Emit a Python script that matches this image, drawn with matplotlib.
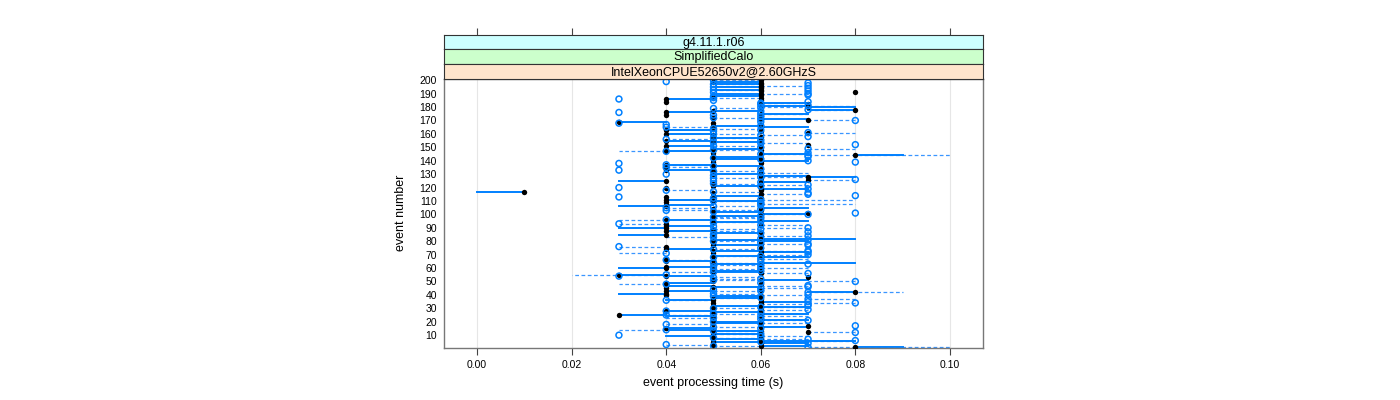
import matplotlib
matplotlib.use("Agg")
import matplotlib.pyplot as plt
import numpy as np

plt.rcParams['font.family'] = ['Liberation Sans', 'DejaVu Sans']

# event numbers
events = list(range(1, 201))

# times in milliseconds, per event 1..200
# black filled points (run A)
run_a_ms = [
    80, 60, 50, 60, 50, 60, 50, 60, 50, 60,
    50, 70, 60, 50, 40, 60, 70, 50, 60, 50,
    60, 50, 60, 50, 30, 60, 50, 40, 60, 50,
    60, 50, 60, 50, 60, 50, 60, 50, 60, 40,
    40, 80, 40, 60, 40, 50, 40, 60, 40, 50,
    60, 50, 70, 40, 30, 60, 50, 60, 50, 40,
    40, 60, 50, 60, 40, 50, 40, 60, 50, 60,
    50, 60, 50, 40, 60, 40, 50, 60, 50, 60,
    50, 60, 50, 60, 40, 50, 60, 40, 50, 40,
    40, 60, 40, 50, 60, 40, 50, 60, 50, 60,
    70, 50, 60, 50, 60, 40, 40, 60, 40, 50,
    40, 60, 40, 50, 60, 50, 10, 60, 60, 40,
    50, 60, 50, 60, 40, 70, 60, 70, 60, 50,
    60, 50, 40, 60, 40, 50, 40, 60, 50, 60,
    50, 60, 50, 80, 60, 50, 40, 60, 50, 60,
    40, 70, 60, 50, 40, 60, 50, 60, 50, 40,
    70, 60, 40, 50, 60, 50, 60, 50, 30, 70,
    60, 50, 60, 40, 60, 40, 50, 80, 60, 70,
    60, 70, 60, 40, 60, 40, 60, 50, 60, 60,
    80, 60, 60, 60, 60, 60, 60, 60, 50, 60,
]
# end of the solid segment for run A
run_a_end_ms = [
    90, 70, 50, 70, 60, 80, 60, 60, 40, 60,
    60, 70, 50, 40, 50, 70, 70, 50, 50, 60,
    70, 50, 60, 40, 40, 70, 60, 50, 60, 50,
    70, 60, 60, 50, 70, 40, 60, 60, 50, 40,
    30, 70, 50, 60, 40, 60, 50, 60, 50, 50,
    70, 50, 70, 50, 40, 60, 60, 50, 50, 30,
    50, 60, 60, 80, 50, 50, 40, 70, 60, 60,
    50, 70, 60, 50, 60, 40, 60, 60, 50, 70,
    60, 80, 50, 60, 30, 60, 60, 50, 50, 30,
    50, 60, 40, 60, 70, 50, 50, 60, 60, 70,
    70, 60, 60, 50, 70, 30, 50, 60, 40, 60,
    50, 60, 40, 60, 60, 50, 0, 60, 70, 40,
    60, 60, 50, 70, 30, 70, 60, 80, 70, 60,
    60, 50, 50, 60, 40, 60, 50, 60, 50, 70,
    60, 60, 60, 90, 70, 50, 50, 60, 60, 60,
    50, 70, 60, 60, 50, 60, 60, 60, 50, 50,
    70, 60, 50, 50, 70, 60, 60, 50, 40, 70,
    70, 50, 60, 40, 70, 50, 60, 70, 60, 80,
    70, 70, 70, 40, 60, 50, 60, 60, 60, 50,
    80, 60, 50, 60, 50, 60, 50, 60, 60, 60,
]
# open circles (run B)
run_b_ms = [
    70, 50, 40, 70, 60, 80, 70, 50, 60, 30,
    60, 80, 50, 40, 60, 50, 80, 40, 60, 50,
    70, 60, 50, 60, 40, 50, 60, 40, 70, 50,
    60, 70, 70, 80, 70, 40, 70, 60, 50, 70,
    50, 70, 60, 50, 60, 70, 70, 40, 60, 80,
    50, 60, 50, 30, 40, 70, 50, 60, 50, 60,
    50, 60, 70, 50, 60, 40, 60, 50, 60, 70,
    40, 70, 70, 50, 60, 30, 70, 70, 60, 50,
    70, 60, 50, 70, 50, 60, 70, 50, 60, 70,
    50, 60, 30, 50, 60, 40, 60, 50, 60, 70,
    80, 50, 40, 60, 40, 50, 60, 60, 60, 50,
    60, 50, 30, 80, 70, 70, 50, 40, 70, 30,
    60, 70, 50, 60, 50, 80, 50, 60, 50, 40,
    60, 50, 30, 60, 40, 50, 40, 30, 80, 70,
    60, 50, 70, 70, 60, 70, 40, 50, 70, 60,
    50, 80, 60, 50, 60, 40, 50, 70, 60, 50,
    70, 50, 60, 50, 40, 60, 40, 30, 60, 80,
    60, 50, 60, 50, 60, 30, 60, 70, 50, 60,
    70, 60, 60, 70, 50, 30, 50, 50, 70, 70,
    50, 70, 50, 70, 50, 70, 50, 70, 40, 50,
]
# end of the dashed segment for run B
run_b_end_ms = [
    100, 60, 50, 70, 70, 70, 60, 60, 70, 30,
    50, 70, 60, 30, 60, 60, 80, 50, 70, 50,
    60, 60, 40, 70, 50, 60, 60, 40, 60, 60,
    70, 70, 60, 70, 70, 50, 80, 50, 60, 60,
    60, 90, 50, 50, 70, 70, 60, 30, 60, 70,
    60, 50, 60, 30, 20, 60, 40, 60, 60, 70,
    50, 50, 70, 60, 60, 50, 70, 50, 50, 60,
    30, 70, 60, 60, 60, 40, 70, 60, 60, 60,
    70, 70, 40, 60, 50, 60, 70, 60, 50, 60,
    50, 70, 40, 60, 60, 30, 50, 60, 60, 60,
    80, 50, 60, 60, 50, 60, 60, 80, 60, 60,
    80, 50, 30, 80, 60, 70, 60, 50, 70, 30,
    60, 60, 60, 60, 50, 70, 60, 70, 50, 40,
    70, 60, 30, 60, 50, 50, 50, 30, 80, 70,
    60, 60, 70, 100, 70, 70, 30, 60, 80, 60,
    60, 80, 70, 50, 60, 50, 60, 70, 70, 60,
    80, 50, 60, 60, 50, 60, 40, 30, 60, 70,
    60, 60, 60, 50, 70, 30, 60, 80, 60, 70,
    80, 60, 70, 70, 50, 30, 60, 50, 70, 60,
    50, 70, 60, 70, 50, 60, 60, 70, 40, 60,
]

x_ticks = [0.00, 0.02, 0.04, 0.06, 0.08, 0.10]
x_tick_labels = ["0.00", "0.02", "0.04", "0.06", "0.08", "0.10"]
y_ticks = list(range(10, 201, 10))
strip_labels = ["g4.11.1.r06", "SimplifiedCalo", "IntelXeonCPUE52650v2@2.60GHzS"]
strip_colors = ["#ccffff", "#ccffcc", "#ffe5cc"]

ev = np.array(events, dtype=float)
a = np.array(run_a_ms) / 1000.0
ae = np.array(run_a_end_ms) / 1000.0
b = np.array(run_b_ms) / 1000.0
be = np.array(run_b_end_ms) / 1000.0

W, H = 1400, 400
fig = plt.figure(figsize=(W / 100, H / 100), dpi=100)
L, R, T, B = 444, 983, 78.5, 347.5
ax = fig.add_axes([L / W, 1 - B / H, (R - L) / W, (B - T) / H])

blue = "#0080ff"
for xg in x_ticks:
    ax.axvline(xg, color="#e6e6e6", lw=0.8, zorder=0)

# dashed segments (run B)
for y, x0, x1 in zip(ev, b, be):
    if x0 != x1:
        ax.plot([x0, x1], [y, y], color="#3a96ff", lw=0.9, ls=(0, (3, 2)), zorder=1)
# solid segments (run A)
for y, x0, x1 in zip(ev, a, ae):
    if x0 != x1:
        ax.plot([x0, x1], [y, y], color=blue, lw=1.4, zorder=2)

ax.scatter(a, ev, s=15, color="black", zorder=3, linewidths=0)
ax.scatter(b, ev, s=18, facecolors="none", edgecolors=blue, linewidths=1.1, zorder=4)

ax.set_xlim(-0.007, 0.107)
ax.set_ylim(0.8, 201.3)
ax.set_xticks(x_ticks)
ax.set_xticklabels(x_tick_labels, fontsize=7.5)
ax.set_yticks(y_ticks)
ax.set_yticklabels([str(v) for v in y_ticks], fontsize=7.5)
ax.tick_params(axis="y", length=0, pad=5)
ax.tick_params(axis="x", length=5, width=0.8, color="#444444", pad=4)
ax.tick_params(top=False, right=False)
for side in ["left", "bottom", "right", "top"]:
    ax.spines[side].set_color("#777777")
    ax.spines[side].set_linewidth(1.0)
ax.set_xlabel("event processing time (s)", fontsize=9, labelpad=5)
ax.set_ylabel("event number", fontsize=9, labelpad=9)

# strips
sh = 14.6
for i, (lab, col) in enumerate(zip(strip_labels, strip_colors)):
    top = T - (3 - i) * sh
    sax = fig.add_axes([L / W, 1 - (top + sh) / H, (R - L) / W, sh / H])
    sax.set_facecolor(col)
    sax.set_xlim(-0.007, 0.107)
    sax.set_ylim(0, 1)
    sax.set_yticks([])
    sax.text(0.5, 0.45, lab, transform=sax.transAxes, ha="center", va="center", fontsize=9)
    for sp in sax.spines.values():
        sp.set_color("#333333")
        sp.set_linewidth(0.8)
    if i == 0:
        sax.set_xticks(x_ticks)
        sax.tick_params(axis="x", top=True, bottom=False, labeltop=False, labelbottom=False,
                        length=5, width=0.8, color="#444444", direction="out")
    else:
        sax.set_xticks([])

fig.savefig("out.png", dpi=100)
